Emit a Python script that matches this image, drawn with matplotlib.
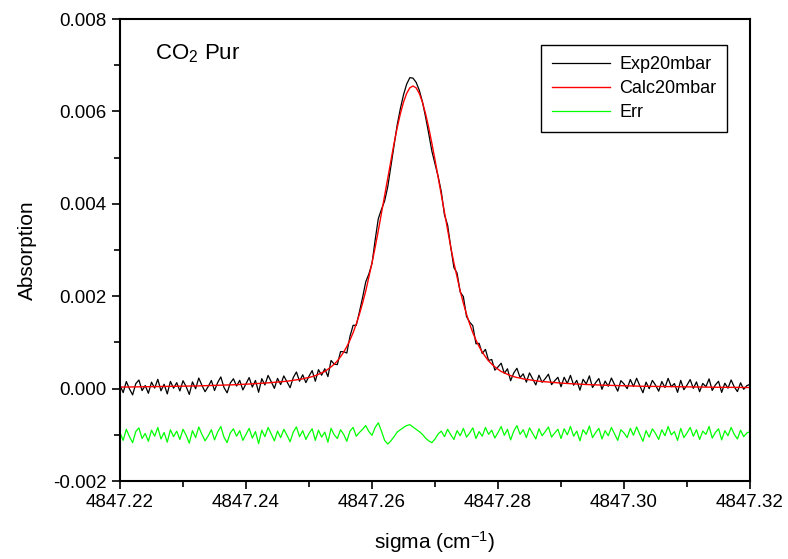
import numpy as np
import matplotlib
matplotlib.use("Agg")
import matplotlib.pyplot as plt
from matplotlib.ticker import MultipleLocator, FormatStrFormatter

plt.rcParams['font.family'] = ['Liberation Sans', 'DejaVu Sans']
plt.rcParams['mathtext.default'] = 'regular'

# wavenumber grid (cm-1), step 0.0005
sigma_start = 4847.22
sigma_step = 0.0005

# fitted profile (absorption)
calc20mbar = [
    0.000032, 0.000033, 0.000033, 0.000034, 0.000035, 0.000036, 0.000036, 0.000037, 0.000038, 0.000039,
    0.000040, 0.000041, 0.000042, 0.000043, 0.000044, 0.000045, 0.000046, 0.000048, 0.000049, 0.000050,
    0.000051, 0.000053, 0.000054, 0.000056, 0.000057, 0.000059, 0.000061, 0.000063, 0.000065, 0.000067,
    0.000069, 0.000071, 0.000073, 0.000075, 0.000078, 0.000080, 0.000083, 0.000086, 0.000089, 0.000092,
    0.000096, 0.000099, 0.000103, 0.000107, 0.000111, 0.000115, 0.000120, 0.000125, 0.000130, 0.000136,
    0.000142, 0.000148, 0.000155, 0.000160, 0.000170, 0.000180, 0.000190, 0.000200, 0.000210, 0.000230,
    0.000240, 0.000260, 0.000280, 0.000310, 0.000340, 0.000370, 0.000420, 0.000470, 0.000530, 0.000600,
    0.000690, 0.000790, 0.000910, 0.001050, 0.001210, 0.001400, 0.001610, 0.001850, 0.002110, 0.002410,
    0.002720, 0.003060, 0.003420, 0.003800, 0.004180, 0.004570, 0.004950, 0.005310, 0.005650, 0.005950,
    0.006200, 0.006390, 0.006510, 0.006550, 0.006510, 0.006390, 0.006200, 0.005950, 0.005650, 0.005310,
    0.004950, 0.004570, 0.004180, 0.003800, 0.003420, 0.003060, 0.002720, 0.002410, 0.002110, 0.001850,
    0.001610, 0.001400, 0.001210, 0.001050, 0.000910, 0.000790, 0.000690, 0.000600, 0.000530, 0.000470,
    0.000420, 0.000370, 0.000340, 0.000310, 0.000280, 0.000260, 0.000240, 0.000230, 0.000210, 0.000200,
    0.000190, 0.000180, 0.000170, 0.000160, 0.000155, 0.000148, 0.000142, 0.000136, 0.000130, 0.000125,
    0.000120, 0.000115, 0.000111, 0.000107, 0.000103, 0.000099, 0.000096, 0.000092, 0.000089, 0.000086,
    0.000083, 0.000080, 0.000078, 0.000075, 0.000073, 0.000071, 0.000069, 0.000067, 0.000065, 0.000063,
    0.000061, 0.000059, 0.000057, 0.000056, 0.000054, 0.000053, 0.000051, 0.000050, 0.000049, 0.000048,
    0.000046, 0.000045, 0.000044, 0.000043, 0.000042, 0.000041, 0.000040, 0.000039, 0.000038, 0.000037,
    0.000036, 0.000036, 0.000035, 0.000034, 0.000033, 0.000033, 0.000032, 0.000031, 0.000031, 0.000030,
    0.000029, 0.000029, 0.000028, 0.000028, 0.000027, 0.000027, 0.000026, 0.000026, 0.000025, 0.000025,
    0.000024,
]

# residual trace (shifted by -0.001), in units of 1e-5
err_1e5 = [
    -96, -112, -88, -104, -117, -93, -85, -108, -97, -114, -90, -103, -84, -109, -95, -116, -89, -104, -92, -110,
    -88, -101, -118, -91, -106, -83, -99, -113, -102, -89, -111, -94, -82, -105, -117, -96, -87, -103, -91, -112,
    -99, -86, -107, -93, -119, -90, -104, -84, -98, -113, -92, -106, -88, -101, -115, -94, -83, -104, -91, -110,
    -97, -87, -112, -90, -105, -94, -116, -86, -100, -108, -89, -99, -114, -92, -84, -103, -95, -88, -80, -93,
    -101, -84, -74, -92, -112, -120, -113, -104, -94, -89, -84, -80, -78, -83, -88, -93, -99, -107, -113, -117,
    -109, -98, -92, -104, -88, -100, -110, -91, -102, -86, -105, -96, -85, -108, -93, -103, -84, -99, -90, -107,
    -95, -82, -101, -88, -111, -92, -80, -99, -89, -106, -85, -97, -109, -87, -102, -93, -83, -105, -96, -88,
    -108, -87, -100, -82, -103, -92, -113, -89, -99, -81, -106, -95, -86, -109, -91, -102, -84, -98, -112, -89,
    -96, -106, -86, -101, -83, -99, -114, -91, -105, -87, -97, -110, -89, -102, -82, -100, -93, -112, -86, -106,
    -96, -84, -103, -89, -110, -92, -99, -82, -107, -95, -87, -111, -91, -102, -84, -99, -109, -90, -104, -96,
    -93,
]
err_offset = -0.001

calc = np.array(calc20mbar)
err = np.array(err_1e5) * 1e-5
sigma = sigma_start + sigma_step * np.arange(len(calc))
exp = calc + (err - err_offset)

fig = plt.figure(figsize=(7.88, 5.59), dpi=100)
ax = fig.add_axes([0.1523, 0.1395, 0.7995, 0.8265])

ax.plot(sigma, exp, color='black', lw=0.9, label='Exp20mbar')
ax.plot(sigma, calc, color='red', lw=1.0, label='Calc20mbar')
ax.plot(sigma, err, color='#00ff00', lw=0.9, label='Err')

ax.set_xlim(4847.22, 4847.32)
ax.set_ylim(-0.002, 0.008)
ax.xaxis.set_major_locator(MultipleLocator(0.02))
ax.xaxis.set_minor_locator(MultipleLocator(0.01))
ax.yaxis.set_major_locator(MultipleLocator(0.002))
ax.yaxis.set_minor_locator(MultipleLocator(0.001))
ax.xaxis.set_major_formatter(FormatStrFormatter('%.2f'))
ax.yaxis.set_major_formatter(FormatStrFormatter('%.3f'))
ax.tick_params(which='both', direction='out', top=False, right=False, labelsize=13.5, width=1.2)
ax.tick_params(which='major', length=6)
ax.tick_params(which='minor', length=4)
for s in ax.spines.values():
    s.set_linewidth(1.5)

ax.set_xlabel('sigma (cm$^{-1}$)', fontsize=15, labelpad=13)
ax.set_ylabel('Absorption', fontsize=15, labelpad=12)
ax.text(0.055, 0.925, 'CO$_2$ Pur', transform=ax.transAxes, fontsize=16, va='center')

leg = ax.legend(loc='upper right', bbox_to_anchor=(0.9635, 0.9437), borderaxespad=0,
                fancybox=False, edgecolor='black', framealpha=1, fontsize=13,
                handlelength=3.2, labelspacing=0.4, borderpad=0.6, handletextpad=0.5)
leg.get_frame().set_linewidth(1.0)

fig.savefig('out.png', dpi=100)
